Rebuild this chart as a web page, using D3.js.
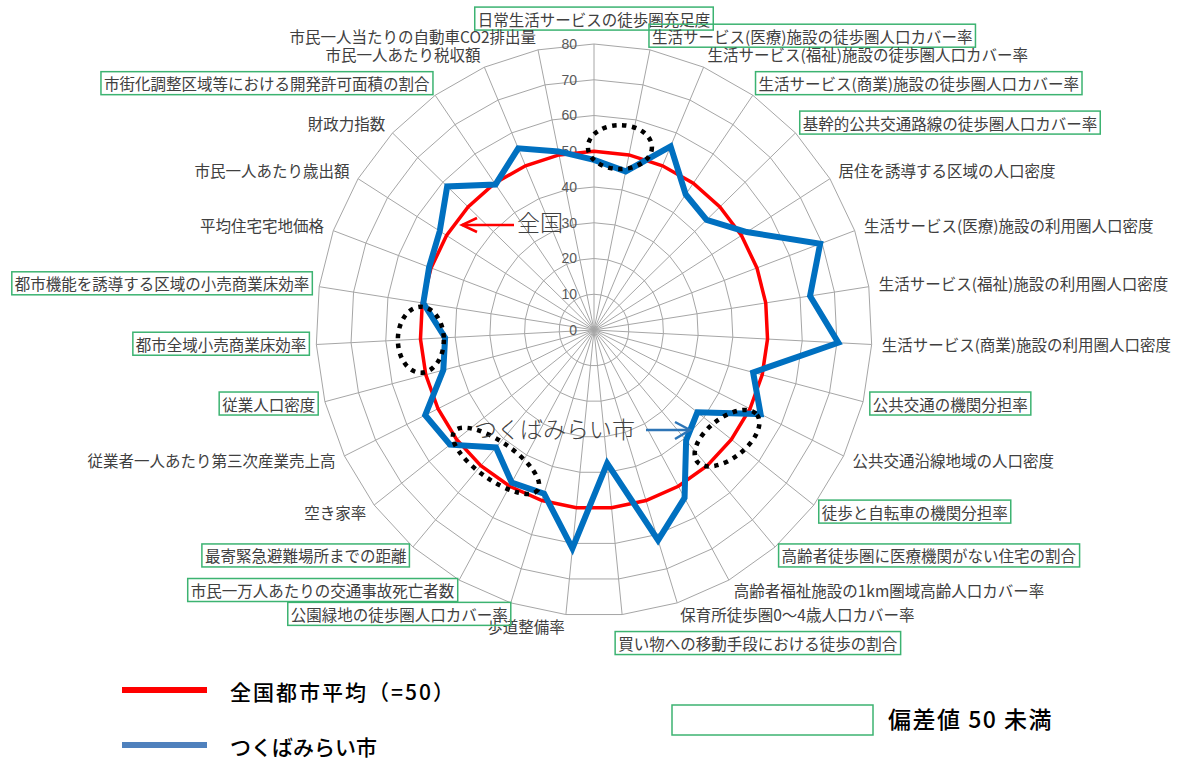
<!DOCTYPE html>
<html lang="ja">
<head>
<meta charset="utf-8">
<script src="https://cdn.jsdelivr.net/npm/d3@7"></script>
<style>
  html, body { margin: 0; padding: 0; background: #fff; }
  svg { display: block; font-family: "Noto Sans CJK JP", "Noto Sans", sans-serif; }
</style>
</head>
<body>
<svg id="chart" width="1182" height="760"></svg>
<script>
// 指標（上から時計回り）
const indicators = [
    "日常生活サービスの徒歩圏充足度",
    "生活サービス(医療)施設の徒歩圏人口カバー率",
    "生活サービス(福祉)施設の徒歩圏人口カバー率",
    "生活サービス(商業)施設の徒歩圏人口カバー率",
    "基幹的公共交通路線の徒歩圏人口カバー率",
    "居住を誘導する区域の人口密度",
    "生活サービス(医療)施設の利用圏人口密度",
    "生活サービス(福祉)施設の利用圏人口密度",
    "生活サービス(商業)施設の利用圏人口密度",
    "公共交通の機関分担率",
    "公共交通沿線地域の人口密度",
    "徒歩と自転車の機関分担率",
    "高齢者徒歩圏に医療機関がない住宅の割合",
    "高齢者福祉施設の1km圏域高齢人口カバー率",
    "保育所徒歩圏0～4歳人口カバー率",
    "買い物への移動手段における徒歩の割合",
    "歩道整備率",
    "公園緑地の徒歩圏人口カバー率",
    "市民一万人あたりの交通事故死亡者数",
    "最寄緊急避難場所までの距離",
    "空き家率",
    "従業者一人あたり第三次産業売上高",
    "従業人口密度",
    "都市全域小売商業床効率",
    "都市機能を誘導する区域の小売商業床効率",
    "平均住宅宅地価格",
    "市民一人あたり歳出額",
    "財政力指数",
    "市街化調整区域等における開発許可面積の割合",
    "市民一人あたり税収額",
    "市民一人当たりの自動車CO2排出量"
];

// 全国都市平均（偏差値）
const nationalAvg = [50, 50, 50, 50, 50, 50, 50, 50, 50, 50, 50, 50, 50, 50, 50, 50,
                     50, 50, 50, 50, 50, 50, 50, 50, 50, 50, 50, 50, 50, 50, 50];

// つくばみらい市（偏差値）
const cityScores = [47.6, 45.3, 55.9, 46.2, 44.7, 51.8, 69.4, 62.9, 70.4, 47.3, 53.4,
                    37.6, 40.7, 53.7, 61.6, 37.5, 61.4, 48.0, 48.8, 43.3, 52.4, 54.1,
                    44.8, 42.9, 49.7, 50.6, 52.3, 58.3, 49.6, 55.3, 51.0];

const valueTicks = [0, 10, 20, 30, 40, 50, 60, 70, 80];

(function() {
    const svg = d3.select("#chart");

    // 中心と半径（元図はわずかに縦長）
    const cx = 594, cy = 330;
    const rX = d3.scaleLinear().domain([0, 80]).range([0, 278]);
    const rY = d3.scaleLinear().domain([0, 80]).range([0, 286]);
    const N = indicators.length;
    const angle = d3.scaleLinear().domain([0, N]).range([0, 2 * Math.PI]);

    const pt = (v, i) => {
        const a = angle(i);
        return [cx + rX(v) * Math.sin(a), cy - rY(v) * Math.cos(a)];
    };

    const gridColor = "#a6a6a6";
    const green = "#3cb371";
    const idx = d3.range(N);

    // グリッド（多角形）
    const ring = d3.line().curve(d3.curveLinearClosed);
    svg.append("g")
        .selectAll("path")
        .data(valueTicks.filter(t => t > 0))
        .join("path")
        .attr("d", t => ring(idx.map(i => pt(t, i))))
        .attr("fill", "none")
        .attr("stroke", gridColor)
        .attr("stroke-width", 1);

    // 放射線
    svg.append("g")
        .selectAll("line")
        .data(idx)
        .join("line")
        .attr("x1", cx).attr("y1", cy)
        .attr("x2", i => pt(80, i)[0])
        .attr("y2", i => pt(80, i)[1])
        .attr("stroke", gridColor)
        .attr("stroke-width", 1);

    // 目盛ラベル
    svg.append("g")
        .selectAll("text")
        .data(valueTicks)
        .join("text")
        .attr("x", cx - 17)
        .attr("y", t => cy - rY(t))
        .attr("dy", "0.35em")
        .attr("text-anchor", "end")
        .style("font-family", "'Liberation Sans', sans-serif")
        .style("font-size", "14px")
        .attr("fill", "#595959")
        .text(t => t);

    // 系列
    const series = [
        { values: nationalAvg, color: "#ff0000", width: 3.5 },
        { values: cityScores, color: "#0070c0", width: 6 }
    ];
    svg.append("g")
        .selectAll("path")
        .data(series)
        .join("path")
        .attr("d", s => ring(s.values.map((v, i) => pt(v, i))))
        .attr("fill", "none")
        .attr("stroke", s => s.color)
        .attr("stroke-width", s => s.width)
        .attr("stroke-linejoin", "miter");

    // 指標ラベル（偏差値50未満は枠付き）
    const nudge = { 0: [0, -11], 15: [-5, 17] };
    const labels = svg.append("g")
        .selectAll("g")
        .data(idx)
        .join("g");

    labels.append("text")
        .attr("x", i => {
            const s = Math.sin(angle(i));
            return pt(80, i)[0] + 10 * s + (nudge[i] ? nudge[i][0] : 0);
        })
        .attr("y", i => {
            const c = Math.cos(angle(i));
            return pt(80, i)[1] - 13 * c + (nudge[i] ? nudge[i][1] : 0);
        })
        .attr("dy", "0.36em")
        .attr("text-anchor", i => {
            const s = Math.sin(angle(i));
            return s > 0.05 ? "start" : (s < -0.05 ? "end" : "middle");
        })
        .style("font-size", "15.5px")
        .attr("fill", "#404040")
        .text(i => indicators[i]);

    labels.filter(i => cityScores[i] < 50).each(function() {
        const g = d3.select(this);
        const b = g.select("text").node().getBBox();
        g.insert("rect", "text")
            .attr("x", b.x - 3)
            .attr("y", b.y - 0.5)
            .attr("width", b.width + 6)
            .attr("height", b.height + 1)
            .attr("fill", "none")
            .attr("stroke", green)
            .attr("stroke-width", 1.5);
    });

    // 点線の楕円（注目箇所）
    const callouts = [
        { pos: 0.715, v: 51.7, rx: 32, ry: 22, rot: 0 },
        { pos: 22.98, v: 49.9, rx: 23, ry: 33, rot: 0 },
        { pos: 11.05, v: 48.8, rx: 38, ry: 20, rot: -38 },
        { pos: 18.74, v: 46.2, rx: 51, ry: 19, rot: 35 }
    ];
    svg.append("g")
        .selectAll("ellipse")
        .data(callouts)
        .join("ellipse")
        .attr("transform", d => {
            const p = pt(d.v, d.pos);
            return `translate(${p[0]},${p[1]}) rotate(${d.rot})`;
        })
        .attr("rx", d => d.rx)
        .attr("ry", d => d.ry)
        .attr("fill", "none")
        .attr("stroke", "#000")
        .attr("stroke-width", 4.5)
        .attr("stroke-dasharray", "4.5 5.5");

    // 注記：全国
    const ann = svg.append("g");
    ann.append("text")
        .attr("x", cx - 77).attr("y", cy - 107)
        .attr("dy", "0.36em")
        .style("font-size", "23px")
        .style("font-weight", "300")
        .attr("fill", "#404040")
        .text("全国");
    ann.append("line")
        .attr("x1", cx - 80).attr("y1", cy - 105)
        .attr("x2", cx - 132).attr("y2", cy - 105)
        .attr("stroke", "#ff0000").attr("stroke-width", 2.5);
    ann.append("path")
        .attr("d", `M${cx - 117},${cy - 112} L${cx - 132},${cy - 105} L${cx - 117},${cy - 98}`)
        .attr("fill", "none").attr("stroke", "#ff0000").attr("stroke-width", 2.5);

    // 注記：つくばみらい市
    ann.append("text")
        .attr("x", cx + 41).attr("y", cy + 100)
        .attr("dy", "0.36em")
        .attr("text-anchor", "end")
        .style("font-size", "23px")
        .style("font-weight", "300")
        .attr("fill", "#404040")
        .text("つくばみらい市");
    ann.append("line")
        .attr("x1", cx + 52).attr("y1", cy + 100)
        .attr("x2", cx + 96).attr("y2", cy + 100)
        .attr("stroke", "#2e75b6").attr("stroke-width", 2.5);
    ann.append("path")
        .attr("d", `M${cx + 81},${cy + 92} L${cx + 96},${cy + 100} L${cx + 81},${cy + 109}`)
        .attr("fill", "none").attr("stroke", "#2e75b6").attr("stroke-width", 2.5);

    // 凡例
    const legend = svg.append("g");
    const legendItems = [
        { label: "全国都市平均（=50）", color: "#ff0000", y: 690, spacing: 2 },
        { label: "つくばみらい市", color: "#4f81bd", y: 745, spacing: 0 }
    ];
    legendItems.forEach(d => {
        legend.append("line")
            .attr("x1", 122).attr("x2", 207)
            .attr("y1", d.y).attr("y2", d.y)
            .attr("stroke", d.color).attr("stroke-width", 6);
        legend.append("text")
            .attr("x", 230).attr("y", d.y + 2)
            .attr("dy", "0.36em")
            .style("font-size", "21px")
            .style("font-weight", "500")
            .style("letter-spacing", d.spacing + "px")
            .attr("fill", "#000")
            .text(d.label);
    });
    legend.append("rect")
        .attr("x", 672).attr("y", 705)
        .attr("width", 201).attr("height", 30)
        .attr("fill", "none")
        .attr("stroke", green).attr("stroke-width", 1.5);
    legend.append("text")
        .attr("x", 888).attr("y", 720)
        .attr("dy", "0.36em")
        .style("font-size", "23px")
        .style("font-weight", "500")
        .style("letter-spacing", "1.5px")
        .attr("fill", "#000")
        .text("偏差値 50 未満");
})();
</script>
</body>
</html>
